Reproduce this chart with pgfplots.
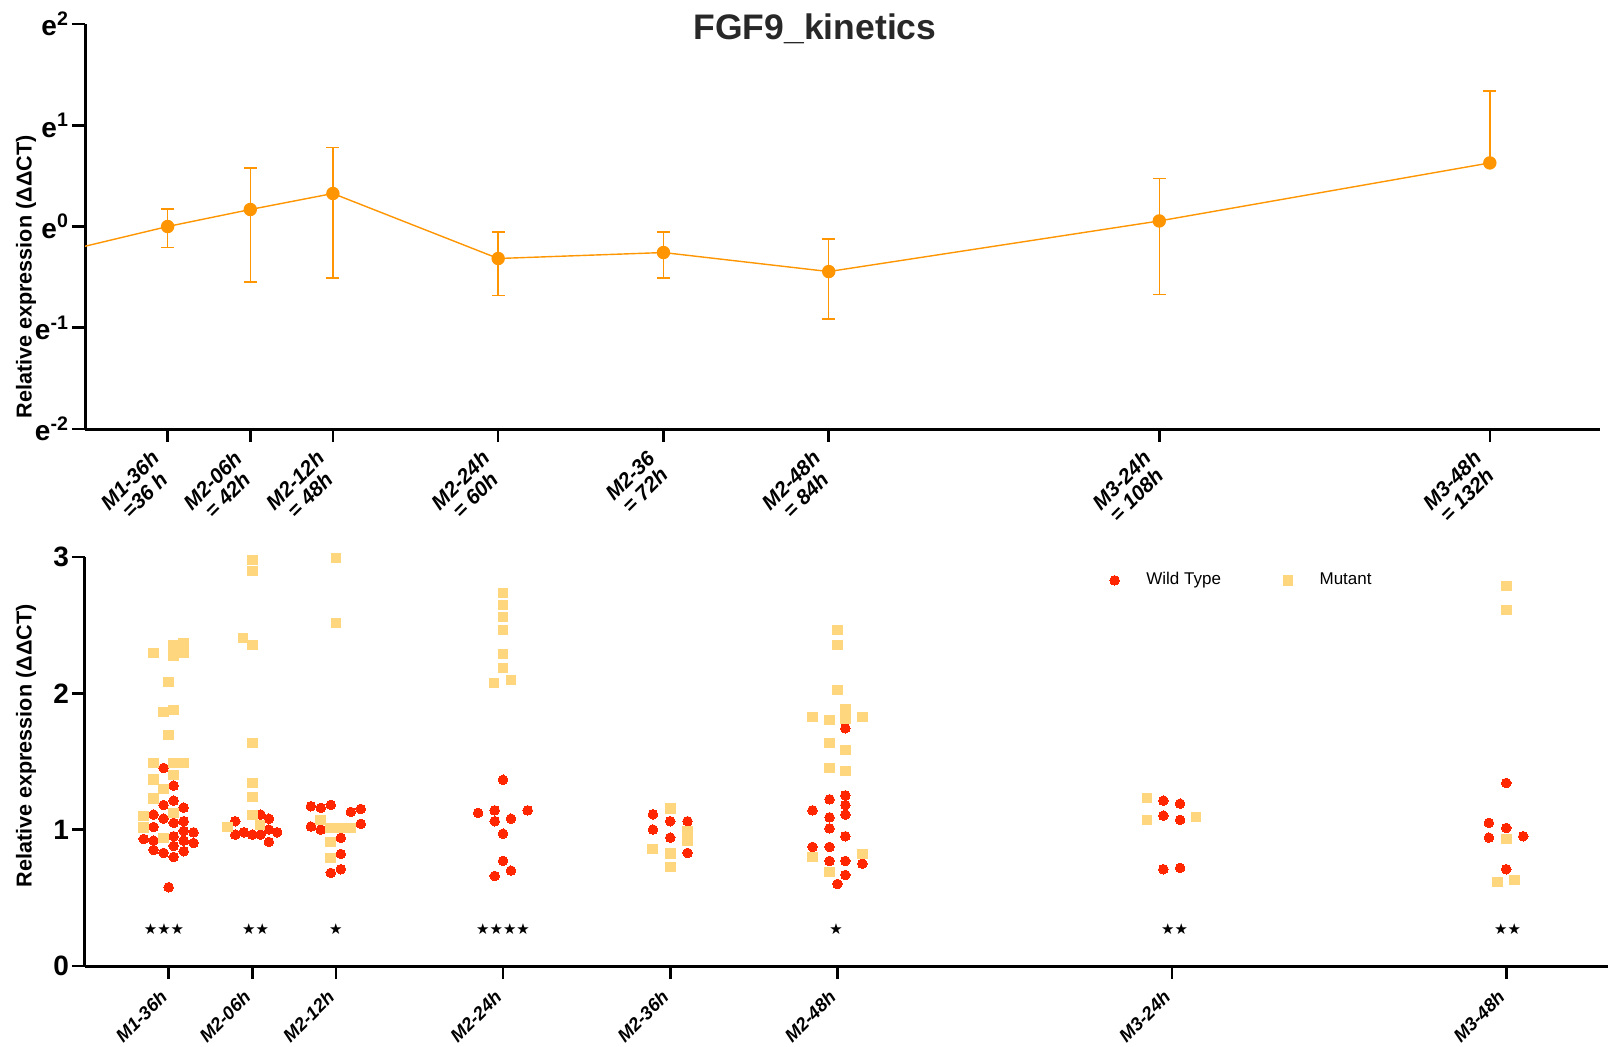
\documentclass[border=0pt]{standalone}
\usepackage{pgfplots}
\pgfplotsset{compat=1.18}
\usepackage{fontspec}
\setmainfont{Liberation Sans}
\newfontfamily\dejavu{DejaVu Sans}
\definecolor{wt}{RGB}{255,38,0}
\definecolor{mut}{RGB}{253,214,126}
\definecolor{kin}{RGB}{255,149,0}
\definecolor{ttl}{RGB}{40,40,40}

% top panel: ln of relative expression, errors plus / minus (ln units)
\pgfplotstableread{
t    v       ep     em
24  -0.390   0      0
36   0.000   0.171  0.207
42   0.168   0.411  0.715
48   0.326   0.454  0.834
60  -0.316   0.263  0.364
72  -0.257   0.201  0.253
84  -0.445   0.320  0.470
108  0.055   0.419  0.725
132  0.628   0.712  0
}\kinetics
\pgfplotstableread{
t    v       ep     em
36   0.000   0      0.207
42   0.168   0      0.715
48   0.326   0      0.834
60  -0.316   0      0.364
72  -0.257   0      0.253
84  -0.445   0      0.470
108  0.055   0      0.725
}\kineticsminus

\pgfplotstableread{
x y
35.64 1.453
36.36 1.323
35.64 1.181
36.36 1.213
37.08 1.162
34.92 1.111
35.64 1.081
36.36 1.050
37.08 1.062
34.92 1.020
36.36 0.952
37.08 0.991
37.79 0.981
34.21 0.932
34.92 0.920
37.08 0.920
37.79 0.903
34.92 0.852
35.64 0.830
36.36 0.881
37.08 0.842
36.36 0.800
36.00 0.578
40.78 1.062
42.60 1.111
43.20 1.081
40.78 0.964
41.40 0.981
42.00 0.964
42.60 0.964
43.20 1.001
43.79 0.981
43.20 0.910
46.21 1.172
46.92 1.160
47.64 1.182
49.08 1.130
49.79 1.152
46.21 1.023
46.92 1.001
49.79 1.043
48.36 0.940
48.36 0.822
47.64 0.683
48.36 0.710
60.00 1.366
58.21 1.123
59.40 1.142
61.77 1.142
59.40 1.062
60.57 1.081
60.00 0.971
60.00 0.771
59.40 0.661
60.57 0.700
70.76 1.113
72.00 1.062
73.24 1.062
70.76 1.001
72.00 0.942
73.24 0.830
84.57 1.744
84.57 1.252
83.43 1.223
84.57 1.181
82.21 1.142
83.43 1.091
84.57 1.111
83.43 1.010
84.57 0.952
82.21 0.874
83.43 0.874
83.43 0.771
84.57 0.771
85.79 0.751
84.57 0.668
84.00 0.602
107.39 1.213
108.59 1.191
107.39 1.103
108.59 1.072
107.39 0.710
108.59 0.720
132.00 1.343
130.75 1.050
132.00 1.013
130.75 0.942
133.22 0.952
132.00 0.710
}\wildtype

\pgfplotstableread{
x y
34.92 2.296
36.36 2.350
37.08 2.369
36.36 2.276
37.08 2.296
36.00 2.083
35.64 1.863
36.36 1.878
36.00 1.694
34.92 1.489
36.36 1.489
37.08 1.489
34.92 1.367
36.36 1.401
35.64 1.299
34.92 1.228
34.21 1.101
36.36 1.123
34.21 1.016
35.64 0.940
42.00 2.977
42.00 2.897
41.35 2.406
42.00 2.355
42.00 1.636
42.00 1.343
42.00 1.240
42.00 1.108
40.21 1.020
42.57 1.035
48.00 2.992
48.00 2.516
46.92 1.072
47.64 1.013
48.36 1.013
49.08 1.013
47.64 0.910
47.64 0.793
60.00 2.736
60.00 2.648
60.00 2.560
60.00 2.464
60.00 2.288
60.00 2.186
59.35 2.076
60.57 2.098
72.00 1.155
73.22 0.991
73.22 0.920
70.71 0.859
72.00 0.825
72.00 0.727
84.00 2.464
84.00 2.355
84.00 2.025
84.57 1.885
82.21 1.827
83.43 1.805
84.57 1.812
85.79 1.827
83.43 1.636
84.57 1.585
83.43 1.453
84.57 1.431
85.79 0.822
82.21 0.800
83.43 0.690
106.21 1.233
106.21 1.072
109.72 1.094
132.00 2.787
132.00 2.611
132.00 0.933
131.35 0.617
132.61 0.632
}\mutant

\begin{document}
\begin{tikzpicture}
\useasboundingbox (0,0) rectangle (804pt,-523pt);
\pgfplotsset{
  every axis/.append style={
    scale only axis,
    axis x line*=bottom, axis y line*=left,
    axis line style={line width=1.5pt, -},
    tick align=outside, major tick length=6.5pt,
    tick style={line width=1.3pt, black},
    clip=true,
    yticklabel shift=-2pt,
  }
}
% ---------------- top panel ----------------
\begin{axis}[
  at={(42.5pt,-214.5pt)}, anchor=south west,
  width=757.5pt, height=202.5pt,
  xmin=30, xmax=140, ymin=-2, ymax=2,
  xtick={36,42,48,60,72,84,108,132},
  xticklabels={{M1-36h\\=36 h},{M2-06h\\= 42h},{M2-12h\\= 48h},{M2-24h\\= 60h},{M2-36\\= 72h},{M2-48h\\= 84h},{M3-24h\\= 108h},{M3-48h\\= 132h}},
  xticklabel shift=7.5pt,
  xticklabel style={rotate=45, anchor=east, align=center, font=\bfseries\itshape\fontsize{10.5}{10.5}\selectfont},
  ytick={-2,-1,0,1,2},
  yticklabels={{e\textsuperscript{-2}},{e\textsuperscript{-1}},{e\textsuperscript{0}},{e\textsuperscript{1}},{e\textsuperscript{2}}},
  yticklabel style={font=\bfseries\fontsize{14}{15}\selectfont},
]
\addplot[kin, line width=0.7pt, mark=*, mark size=3pt, mark options={solid, fill=kin, draw=kin},
  error bars/.cd, y dir=plus, y explicit,
  error bar style={kin, line width=0.75pt},
  error mark options={kin, line width=0.75pt, mark size=3.25pt, rotate=90}]
  table[x=t, y=v, y error plus=ep, y error minus=em] {\kinetics};
\addplot[draw=none, forget plot,
  error bars/.cd, y dir=minus, y explicit,
  error bar style={draw=kin, line width=0.75pt},
  error mark options={draw=kin, line width=0.75pt, mark size=3.25pt, rotate=90}]
  table[x=t, y=v, y error plus=ep, y error minus=em] {\kineticsminus};
\end{axis}
% ---------------- bottom panel ----------------
\begin{axis}[
  at={(42.5pt,-483pt)}, anchor=south west,
  width=761.5pt, height=204.5pt,
  xmin=30, xmax=139.3, ymin=0, ymax=3,
  xtick={36,42,48,60,72,84,108,132},
  xticklabels={M1-36h,M2-06h,M2-12h,M2-24h,M2-36h,M2-48h,M3-24h,M3-48h},
  xticklabel shift=5pt,
  xticklabel style={rotate=45, anchor=east, font=\bfseries\itshape\fontsize{9.2}{10}\selectfont},
  ytick={0,1,2,3},
  yticklabels={0,1,2,3},
  yticklabel style={font=\bfseries\fontsize{14}{15}\selectfont},
  legend columns=2,
  legend image code/.code={\draw[#1] plot coordinates {(0pt,0pt)};},
  legend style={draw=none, fill=none, inner sep=0pt, at={(0.6726,0.943)}, anchor=west,
    font=\fontsize{8.5}{10}\selectfont,
    /tikz/every odd column/.append style={column sep=11.5pt},
    /tikz/every even column/.append style={column sep=29pt}},
]
\addplot[wt, only marks, mark=*, mark size=2.4pt, mark options={solid, fill=wt, draw=wt, line width=0pt}] table[x=x,y=y] {\wildtype};
\addlegendentry{Wild Type}
\addplot[mut, only marks, mark=square*, mark size=2.4pt, mark options={solid, fill=mut, draw=mut, line width=0pt}] table[x=x,y=y] {\mutant};
\addlegendentry{Mutant}
\node[font=\dejavu\fontsize{7.5}{8}\selectfont] at (axis cs:35.67,0.272) {★★★};
\node[font=\dejavu\fontsize{7.5}{8}\selectfont] at (axis cs:42.25,0.272) {★★};
\node[font=\dejavu\fontsize{7.5}{8}\selectfont] at (axis cs:48.0,0.272) {★};
\node[font=\dejavu\fontsize{7.5}{8}\selectfont] at (axis cs:60.0,0.272) {★★★★};
\node[font=\dejavu\fontsize{7.5}{8}\selectfont] at (axis cs:83.9,0.272) {★};
\node[font=\dejavu\fontsize{7.5}{8}\selectfont] at (axis cs:108.2,0.272) {★★};
\node[font=\dejavu\fontsize{7.5}{8}\selectfont] at (axis cs:132.1,0.272) {★★};
\end{axis}
% titles and axis labels
\node[anchor=base, font=\bfseries\fontsize{17.75}{20}\selectfont, text=ttl] at (407.5pt,-19.5pt) {FGF9\_kinetics};
\node[rotate=90, font=\bfseries\fontsize{10.8}{12}\selectfont] at (13pt,-138.5pt) {Relative expression (ΔΔCT)};
\node[rotate=90, font=\bfseries\fontsize{10.8}{12}\selectfont] at (13pt,-373pt) {Relative expression (ΔΔCT)};
\end{tikzpicture}
\end{document}
